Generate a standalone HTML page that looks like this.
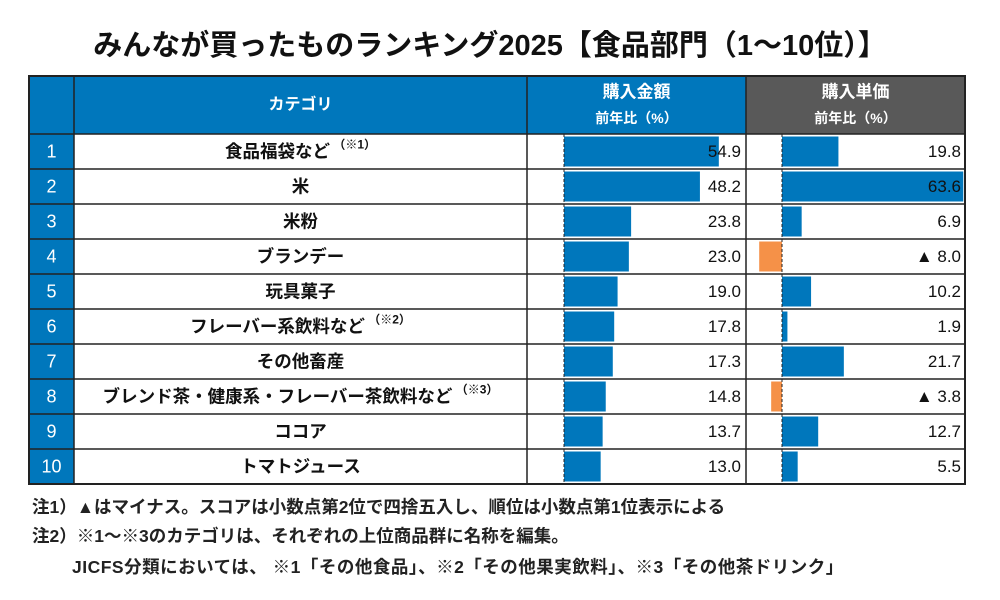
<!DOCTYPE html>
<html><head><meta charset="utf-8"><style>
body{margin:0;width:1000px;height:600px;background:#fff;font-family:"Liberation Sans","Noto Sans CJK JP",sans-serif;position:relative;overflow:hidden}
.t{position:absolute;white-space:nowrap}
</style></head><body>
<div class="t" style="left:0;width:980px;top:22px;text-align:center;font-size:29px;font-weight:bold;color:#111">みんなが買ったものランキング2025【食品部門（1〜10位）】</div>
<svg id="tbl" width="1000" height="600" style="position:absolute;left:0;top:0"></svg>
<div class="t" style="left:32px;top:494px;font-size:17.5px;font-weight:bold;color:#222">注1）▲はマイナス。スコアは小数点第2位で四捨五入し、順位は小数点第1位表示による</div>
<div class="t" style="left:32px;top:523px;font-size:17.5px;font-weight:bold;color:#222">注2）※1〜※3のカテゴリは、それぞれの上位商品群に名称を編集。</div>
<div class="t" style="left:72px;top:554px;font-size:17.5px;font-weight:bold;color:#222;letter-spacing:0.5px">JICFS分類においては、 ※1「その他食品」、※2「その他果実飲料」、※3「その他茶ドリンク」</div>
<script>
const categories=["食品福袋など","米","米粉","ブランデー","玩具菓子","フレーバー系飲料など","その他畜産","ブレンド茶・健康系・フレーバー茶飲料など","ココア","トマトジュース"];
const notes=["※1","","","","","※2","","※3","",""];
const amountValues=[54.9,48.2,23.8,23.0,19.0,17.8,17.3,14.8,13.7,13.0];
const priceValues=[19.8,63.6,6.9,-8.0,10.2,1.9,21.7,-3.8,12.7,5.5];
const svg=document.getElementById('tbl');
const NS='http://www.w3.org/2000/svg';
function mk(tag,attrs,name,parent){const e=document.createElementNS(NS,tag);for(const k in attrs)e.setAttribute(k,attrs[k]);


(parent||svg).appendChild(e);return e;}
const L=29,R=965,T=76,H0=134,B=484;
const cN=74,cC=527,cA=746;
const rowH=(B-H0)/categories.length;
const xA=v=>564+v*2.82, xP=v=>782+v*2.85;
const BLUE='#0077bc',ORG='#f59148';
mk('rect',{x:L,y:T,width:cA-L,height:H0-T,fill:BLUE},'header-blue');
mk('rect',{x:cA,y:T,width:R-cA,height:H0-T,fill:'#595959'},'header-gray');
function txt(x,y,s,o,name){const t=mk('text',Object.assign({x:x,y:y,'font-size':17,'font-weight':'bold','text-anchor':'middle','dominant-baseline':'central','font-family':'"Liberation Sans","Noto Sans CJK JP",sans-serif'},o||{}),name);t.textContent=s;return t;}
txt((cN+cC)/2,105,'カテゴリ',{fill:'#fff','font-size':16},'header-category');
txt((cC+cA)/2,92,'購入金額',{fill:'#fff','font-size':17},'header-amount');
txt((cC+cA)/2,118,'前年比（%）',{fill:'#fff','font-size':14},'header-amount-sub');
txt((cA+R)/2,92,'購入単価',{fill:'#fff','font-size':17},'header-price');
txt((cA+R)/2,118,'前年比（%）',{fill:'#fff','font-size':14},'header-price-sub');
categories.forEach((c,i)=>{
 const y=H0+i*rowH, cy=y+rowH/2;
 mk('rect',{x:L,y:y,width:cN-L,height:rowH,fill:BLUE},'rank-cell');
 txt((L+cN)/2,cy,String(i+1),{fill:'#fff','font-size':18,'font-weight':'normal'},'rank-number');
 const ct=txt((cN+cC)/2,cy,c,{fill:'#111','font-size':17.5},'category-label');
 if(notes[i]){const ts=document.createElementNS(NS,'tspan');ts.setAttribute('font-size','12');ts.setAttribute('dy','-7');ts.textContent=' （'+notes[i]+'）';ct.appendChild(ts);}
 const a=amountValues[i];
 mk('rect',{x:Math.min(xA(0),xA(a)),y:y+2.5,width:Math.abs(xA(a)-xA(0)),height:rowH-5,fill:a<0?ORG:BLUE},'amount-bar');
 txt(cA-5,cy,(a<0?'▲ ':'')+Math.abs(a).toFixed(1),{fill:'#111','text-anchor':'end','font-size':17,'font-weight':'normal'},'amount-value');
 const p=priceValues[i];
 mk('rect',{x:Math.min(xP(0),xP(p)),y:y+2.5,width:Math.abs(xP(p)-xP(0)),height:rowH-5,fill:p<0?ORG:BLUE},'price-bar');
 txt(R-4,cy,(p<0?'▲ ':'')+Math.abs(p).toFixed(1),{fill:'#111','text-anchor':'end','font-size':17,'font-weight':'normal'},'price-value');
 mk('line',{x1:L,x2:R,y1:y,y2:y,stroke:'#222','stroke-width':1.5},'row-line');
});
mk('line',{x1:xA(0),x2:xA(0),y1:H0,y2:B,stroke:'#222','stroke-dasharray':'3,2'},'amount-axis');
mk('line',{x1:xP(0),x2:xP(0),y1:H0,y2:B,stroke:'#222','stroke-dasharray':'3,2'},'price-axis');
[cN,cC,cA].forEach(x=>mk('line',{x1:x,x2:x,y1:T,y2:B,stroke:'#222','stroke-width':1.5},'column-line'));
mk('rect',{x:L,y:T,width:R-L,height:B-T,fill:'none',stroke:'#222','stroke-width':2},'table-border');
</script>
</body></html>
